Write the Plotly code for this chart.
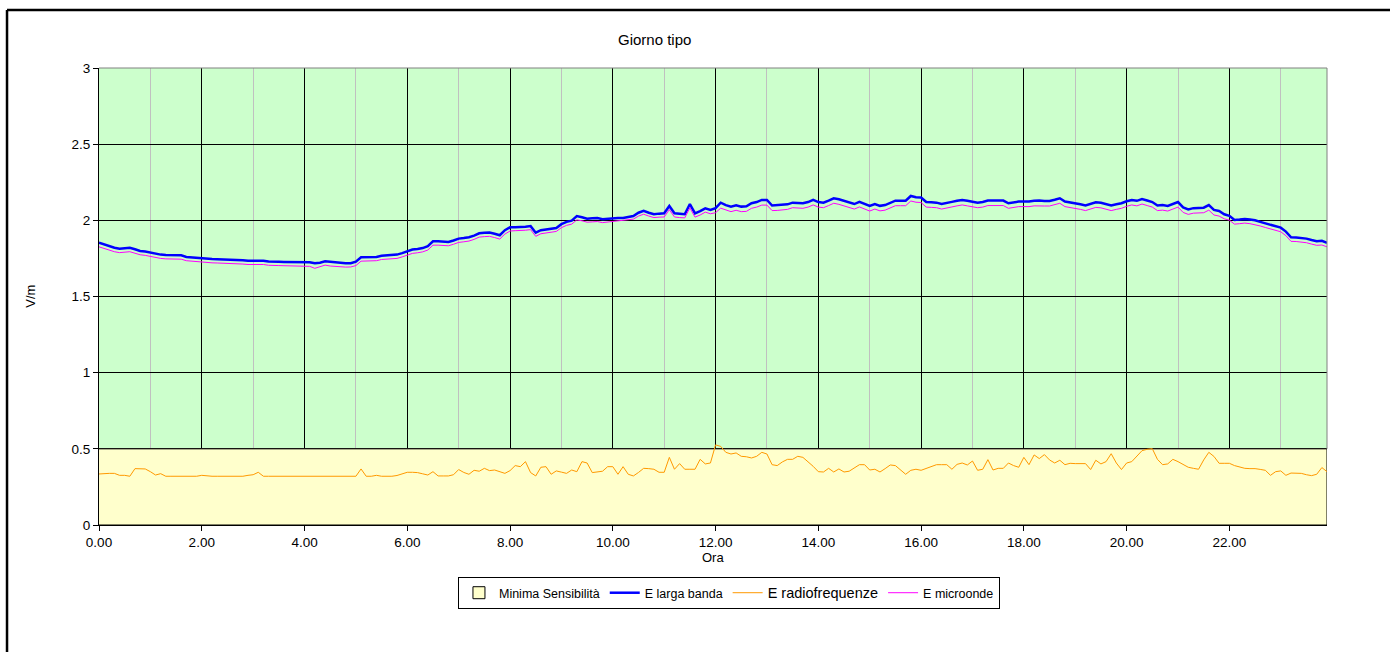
import plotly.graph_objects as go

# 6-minute samples, 0.0 .. 23.9 h
hours = [round(i * 0.1, 1) for i in range(240)]

larga_banda = [
    1.853, 1.842, 1.827, 1.820, 1.814, 1.815, 1.820, 1.810, 1.799, 1.795,
    1.788, 1.782, 1.775, 1.772, 1.772, 1.772, 1.770, 1.760, 1.757, 1.752,
    1.748, 1.747, 1.746, 1.745, 1.744, 1.744, 1.742, 1.740, 1.738, 1.735,
    1.735, 1.737, 1.735, 1.730, 1.727, 1.728, 1.727, 1.727, 1.726, 1.727,
    1.727, 1.725, 1.718, 1.722, 1.731, 1.727, 1.722, 1.720, 1.718, 1.718,
    1.729, 1.757, 1.757, 1.757, 1.760, 1.768, 1.770, 1.770, 1.775, 1.785,
    1.795, 1.808, 1.812, 1.818, 1.830, 1.862, 1.862, 1.860, 1.858, 1.868,
    1.880, 1.884, 1.889, 1.900, 1.915, 1.918, 1.920, 1.912, 1.902, 1.935,
    1.954, 1.955, 1.955, 1.958, 1.962, 1.919, 1.935, 1.941, 1.948, 1.950,
    1.975, 1.990, 1.998, 2.028, 2.020, 2.011, 2.013, 2.015, 2.007, 2.010,
    2.015, 2.015, 2.016, 2.020, 2.028, 2.050, 2.063, 2.050, 2.040, 2.044,
    2.046, 2.094, 2.046, 2.043, 2.040, 2.107, 2.046, 2.060, 2.079, 2.068,
    2.080, 2.116, 2.100, 2.090, 2.099, 2.090, 2.092, 2.112, 2.120, 2.134,
    2.134, 2.097, 2.098, 2.100, 2.105, 2.116, 2.114, 2.112, 2.120, 2.134,
    2.120, 2.116, 2.130, 2.145, 2.138, 2.129, 2.118, 2.107, 2.121, 2.110,
    2.094, 2.107, 2.095, 2.100, 2.115, 2.129, 2.129, 2.129, 2.160, 2.152,
    2.150, 2.120, 2.118, 2.116, 2.107, 2.112, 2.121, 2.128, 2.134, 2.128,
    2.123, 2.116, 2.120, 2.130, 2.130, 2.130, 2.130, 2.112, 2.120, 2.123,
    2.123, 2.123, 2.128, 2.130, 2.127, 2.127, 2.135, 2.145, 2.123, 2.118,
    2.112, 2.105, 2.097, 2.105, 2.118, 2.115, 2.108, 2.097, 2.105, 2.112,
    2.125, 2.134, 2.128, 2.140, 2.130, 2.120, 2.097, 2.100, 2.094, 2.105,
    2.120, 2.085, 2.072, 2.080, 2.083, 2.083, 2.100, 2.068, 2.061, 2.040,
    2.030, 2.002, 2.005, 2.009, 2.005, 2.000, 1.990, 1.980, 1.970, 1.960,
    1.952, 1.926, 1.889, 1.888, 1.885, 1.880, 1.871, 1.863, 1.866, 1.853,
]

microonde = [
    1.826, 1.815, 1.800, 1.794, 1.788, 1.789, 1.794, 1.784, 1.774, 1.770,
    1.763, 1.757, 1.750, 1.747, 1.747, 1.747, 1.745, 1.735, 1.732, 1.727,
    1.723, 1.722, 1.721, 1.720, 1.719, 1.719, 1.717, 1.715, 1.713, 1.710,
    1.710, 1.712, 1.710, 1.705, 1.702, 1.703, 1.702, 1.702, 1.701, 1.702,
    1.702, 1.698, 1.685, 1.695, 1.706, 1.700, 1.697, 1.695, 1.693, 1.694,
    1.703, 1.732, 1.732, 1.732, 1.735, 1.743, 1.745, 1.745, 1.750, 1.760,
    1.770, 1.783, 1.787, 1.793, 1.805, 1.837, 1.837, 1.835, 1.833, 1.843,
    1.855, 1.859, 1.864, 1.875, 1.890, 1.893, 1.895, 1.887, 1.877, 1.910,
    1.930, 1.932, 1.932, 1.935, 1.939, 1.895, 1.912, 1.918, 1.925, 1.927,
    1.952, 1.967, 1.975, 2.003, 1.997, 1.988, 1.990, 1.992, 1.985, 1.988,
    1.993, 1.995, 1.998, 2.002, 2.008, 2.028, 2.040, 2.028, 2.018, 2.021,
    2.022, 2.070, 2.022, 2.018, 2.016, 2.082, 2.021, 2.035, 2.054, 2.043,
    2.050, 2.080, 2.067, 2.057, 2.066, 2.057, 2.059, 2.079, 2.087, 2.100,
    2.100, 2.064, 2.065, 2.067, 2.072, 2.083, 2.081, 2.079, 2.087, 2.101,
    2.087, 2.083, 2.097, 2.112, 2.105, 2.096, 2.085, 2.074, 2.088, 2.077,
    2.061, 2.074, 2.062, 2.067, 2.082, 2.096, 2.096, 2.096, 2.127, 2.119,
    2.117, 2.087, 2.085, 2.083, 2.074, 2.079, 2.088, 2.095, 2.101, 2.095,
    2.090, 2.083, 2.087, 2.097, 2.097, 2.097, 2.097, 2.079, 2.087, 2.090,
    2.090, 2.090, 2.095, 2.097, 2.094, 2.094, 2.102, 2.112, 2.090, 2.085,
    2.079, 2.072, 2.064, 2.072, 2.085, 2.082, 2.075, 2.064, 2.072, 2.079,
    2.092, 2.101, 2.095, 2.107, 2.097, 2.087, 2.064, 2.067, 2.061, 2.072,
    2.087, 2.052, 2.039, 2.047, 2.050, 2.050, 2.067, 2.035, 2.028, 2.010,
    2.001, 1.975, 1.978, 1.982, 1.978, 1.973, 1.963, 1.953, 1.943, 1.933,
    1.925, 1.899, 1.862, 1.861, 1.858, 1.853, 1.844, 1.836, 1.838, 1.826,
]

radiofrequenze = [
    0.335, 0.339, 0.339, 0.339, 0.326, 0.326, 0.320, 0.370, 0.368, 0.368,
    0.350, 0.328, 0.337, 0.320, 0.320, 0.320, 0.320, 0.320, 0.320, 0.320,
    0.326, 0.322, 0.320, 0.320, 0.320, 0.320, 0.320, 0.320, 0.320, 0.326,
    0.330, 0.346, 0.320, 0.320, 0.320, 0.320, 0.320, 0.320, 0.320, 0.320,
    0.320, 0.320, 0.320, 0.320, 0.320, 0.320, 0.320, 0.320, 0.320, 0.320,
    0.320, 0.368, 0.320, 0.320, 0.326, 0.320, 0.320, 0.320, 0.325, 0.335,
    0.346, 0.346, 0.344, 0.336, 0.328, 0.350, 0.322, 0.322, 0.322, 0.330,
    0.364, 0.345, 0.333, 0.359, 0.353, 0.372, 0.357, 0.361, 0.350, 0.339,
    0.357, 0.390, 0.383, 0.416, 0.344, 0.322, 0.379, 0.383, 0.333, 0.355,
    0.347, 0.339, 0.361, 0.350, 0.416, 0.407, 0.344, 0.348, 0.353, 0.383,
    0.383, 0.333, 0.383, 0.333, 0.322, 0.345, 0.372, 0.370, 0.366, 0.346,
    0.346, 0.444, 0.366, 0.403, 0.366, 0.366, 0.366, 0.431, 0.401, 0.407,
    0.526, 0.516, 0.477, 0.466, 0.473, 0.451, 0.448, 0.440, 0.451, 0.477,
    0.466, 0.396, 0.390, 0.414, 0.431, 0.431, 0.451, 0.444, 0.416, 0.385,
    0.350, 0.348, 0.372, 0.348, 0.368, 0.348, 0.353, 0.375, 0.396, 0.396,
    0.361, 0.366, 0.348, 0.370, 0.394, 0.390, 0.360, 0.333, 0.359, 0.366,
    0.359, 0.370, 0.385, 0.396, 0.396, 0.396, 0.366, 0.398, 0.407, 0.394,
    0.420, 0.359, 0.366, 0.429, 0.361, 0.372, 0.372, 0.407, 0.390, 0.379,
    0.444, 0.396, 0.460, 0.436, 0.462, 0.427, 0.407, 0.425, 0.396, 0.405,
    0.403, 0.403, 0.403, 0.364, 0.425, 0.401, 0.416, 0.468, 0.407, 0.364,
    0.407, 0.416, 0.455, 0.488, 0.497, 0.501, 0.431, 0.396, 0.401, 0.431,
    0.416, 0.395, 0.379, 0.372, 0.366, 0.427, 0.477, 0.450, 0.405, 0.405,
    0.405, 0.390, 0.380, 0.372, 0.370, 0.370, 0.365, 0.359, 0.326, 0.350,
    0.355, 0.326, 0.341, 0.340, 0.339, 0.330, 0.324, 0.333, 0.377, 0.350,
]

minima_sensibilita = [0.5] * len(hours)

x_tick_vals = [0, 2, 4, 6, 8, 10, 12, 14, 16, 18, 20, 22]
x_tick_text = ["0.00", "2.00", "4.00", "6.00", "8.00", "10.00", "12.00",
               "14.00", "16.00", "18.00", "20.00", "22.00"]
y_tick_vals = [0, 0.5, 1, 1.5, 2, 2.5, 3]
y_tick_text = ["0", "0.5", "1", "1.5", "2", "2.5", "3"]

FONT = "Liberation Sans, Arial, sans-serif"

fig = go.Figure()

# legend entry for the area (box swatch with black border)
fig.add_trace(go.Bar(
    x=[None], y=[None], name="Minima Sensibilità",
    marker=dict(color="#FFFFCC", line=dict(color="black", width=1)),
    showlegend=True,
))
# the area itself: closed polygon so that the right edge gets its border too
fig.add_trace(go.Scatter(
    x=hours + [hours[-1], hours[0]],
    y=minima_sensibilita + [0, 0],
    mode="lines",
    fill="toself",
    fillcolor="#FFFFCC",
    line=dict(color="black", width=1),
    name="Minima Sensibilità",
    showlegend=False,
    hoverinfo="skip",
))
fig.add_trace(go.Scatter(
    x=hours, y=larga_banda, mode="lines",
    line=dict(color="#0000FF", width=2.5),
    name="E larga banda",
))
fig.add_trace(go.Scatter(
    x=hours, y=radiofrequenze, mode="lines",
    line=dict(color="#FF9900", width=1),
    name='<span style="font-size:14.5px">E radiofrequenze</span>',
))
fig.add_trace(go.Scatter(
    x=hours, y=microonde, mode="lines",
    line=dict(color="#FF00FF", width=1),
    name="E microonde",
))

fig.update_layout(
    width=1390, height=652,
    margin=dict(l=99, r=63, t=68, b=127),
    paper_bgcolor="white",
    plot_bgcolor="#CCFFCC",
    font=dict(family=FONT, size=12, color="black"),
    showlegend=True,
    legend=dict(
        orientation="h",
        x=0.513, xanchor="center",
        y=-0.149, yanchor="middle",
        bordercolor="black", borderwidth=1,
        bgcolor="white",
        font=dict(family=FONT, size=12.5, color="black"),
        itemwidth=30,
        tracegroupgap=0,
    ),
    xaxis=dict(
        range=[0, 23.9],
        tickmode="array", tickvals=x_tick_vals, ticktext=x_tick_text,
        ticks="outside", ticklen=5, tickcolor="black",
        showline=True, linecolor="black", linewidth=1,
        showgrid=True, gridcolor="black", gridwidth=1,
        minor=dict(dtick=1, tick0=0, showgrid=True, gridcolor="#C0C0C0",
                   gridwidth=1, ticks=""),
        zeroline=False,
        tickfont=dict(size=13.5),
    ),
    yaxis=dict(
        range=[0, 3],
        tickmode="array", tickvals=y_tick_vals, ticktext=y_tick_text,
        ticks="outside", ticklen=5, tickcolor="black",
        showline=True, linecolor="black", linewidth=1,
        showgrid=True, gridcolor="black", gridwidth=1,
        zeroline=False,
        tickfont=dict(size=13.5),
    ),
    annotations=[
        dict(text="Giorno tipo", xref="paper", yref="paper",
             x=0.452, y=1.063, showarrow=False,
             font=dict(size=15), xanchor="center", yanchor="middle"),
        dict(text="Ora", xref="paper", yref="paper",
             x=0.5, y=-0.072, showarrow=False,
             font=dict(size=13), xanchor="center", yanchor="middle"),
        dict(text="V/m", xref="paper", yref="paper",
             x=-0.056, y=0.5, showarrow=False, textangle=-90,
             font=dict(size=13), xanchor="center", yanchor="middle"),
    ],
    shapes=[
        # grey plot-area border (top and right in green zone)
        dict(type="line", xref="paper", yref="paper", x0=0, x1=1, y0=1, y1=1,
             line=dict(color="#808080", width=1)),
        dict(type="line", xref="paper", yref="y", x0=1, x1=1, y0=0.5, y1=3,
             line=dict(color="#808080", width=1)),
        # outer chart frame (cut off at right and bottom of the picture)
        dict(type="line", xref="paper", yref="paper",
             x0=-0.0749, x1=1.06, y0=1.1269, y1=1.1269,
             line=dict(color="black", width=2.5)),
        dict(type="line", xref="paper", yref="paper",
             x0=-0.0749, x1=-0.0749, y0=1.1269, y1=-0.3,
             line=dict(color="black", width=2.5)),
    ],
)

fig.write_html("out.html", config={"displayModeBar": False},
               post_script="document.body.style.margin='0px';")
